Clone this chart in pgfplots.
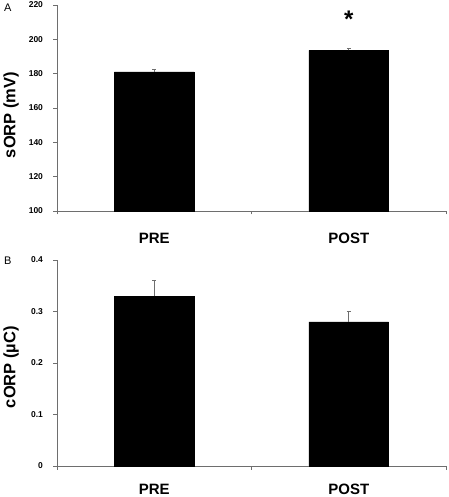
\documentclass[border=0pt]{standalone}
\usepackage{fontspec}
\setmainfont{Liberation Sans}
\usepackage{pgfplots}
\pgfplotsset{compat=1.18}
\definecolor{axgray}{HTML}{6E6E6E}
\pgfplotsset{
  mybar/.style={
    scale only axis,
    width=389pt, height=206pt,
    axis x line*=bottom, axis y line*=left,
    axis line style={-, axgray, line width=0.9pt},
    xmin=-0.5, xmax=1.5,
    xtick={0,1}, xticklabels={PRE,POST},
    minor xtick={-0.5,0.5,1.5},
    tick align=outside,
    major tick length=3.5pt, minor tick length=3.5pt,
    every tick/.style={axgray, line width=0.9pt},
    major x tick style={draw=none},
    xticklabel style={font=\fontsize{15}{17}\selectfont\bfseries, anchor=base},
    yticklabel style={font=\fontsize{8.5}{9}\selectfont\bfseries, xshift=-7pt},
    /pgf/number format/assume math mode=true,
    ybar, bar width=0.41,
    clip=false,
  },
}
\begin{document}
\begin{tikzpicture}
\useasboundingbox (0,0) rectangle (448pt,497pt);
\begin{axis}[mybar, at={(57pt,286pt)}, anchor=south west,
  ymin=100, ymax=220, ytick={100,120,...,220},
  xticklabel style={yshift=-29.5pt},
  every axis y label/.style={at={(axis description cs:-0.118,0.466)}, rotate=90, anchor=center, font=\fontsize{16.5}{18}\selectfont\bfseries},
  ylabel={sORP (mV)}]
\addplot[fill=black, draw=black,
  error bars/.cd, y dir=plus, y explicit,
  error bar style={axgray, line width=0.9pt},
  error mark options={axgray, line width=0.9pt, mark size=2pt, rotate=90}]
  coordinates {(0,181) +- (0,1.2) (1,193.6) +- (0,1.3)};
\node[font=\fontsize{24}{26}\selectfont\bfseries] at (axis cs:1,211.8) {*};
\node[font=\fontsize{11}{12}\selectfont, anchor=north west] at (axis description cs:-0.145,1.02) {A};
\end{axis}
\begin{axis}[mybar, at={(57pt,31pt)}, anchor=south west,
  ymin=0, ymax=0.4, ytick={0,0.1,...,0.4},
  xticklabel style={yshift=-24.7pt},
  yticklabel style={/pgf/number format/fixed, /pgf/number format/precision=1},
  every axis y label/.style={at={(axis description cs:-0.118,0.48)}, rotate=90, anchor=center, font=\fontsize{16.5}{18}\selectfont\bfseries},
  ylabel={cORP (µC)}]
\addplot[fill=black, draw=black,
  error bars/.cd, y dir=plus, y explicit,
  error bar style={axgray, line width=0.9pt},
  error mark options={axgray, line width=0.9pt, mark size=2pt, rotate=90}]
  coordinates {(0,0.33) +- (0,0.03) (1,0.28) +- (0,0.02)};
\node[font=\fontsize{11}{12}\selectfont, anchor=north west] at (axis description cs:-0.145,1.03) {B};
\end{axis}
\end{tikzpicture}
\end{document}
